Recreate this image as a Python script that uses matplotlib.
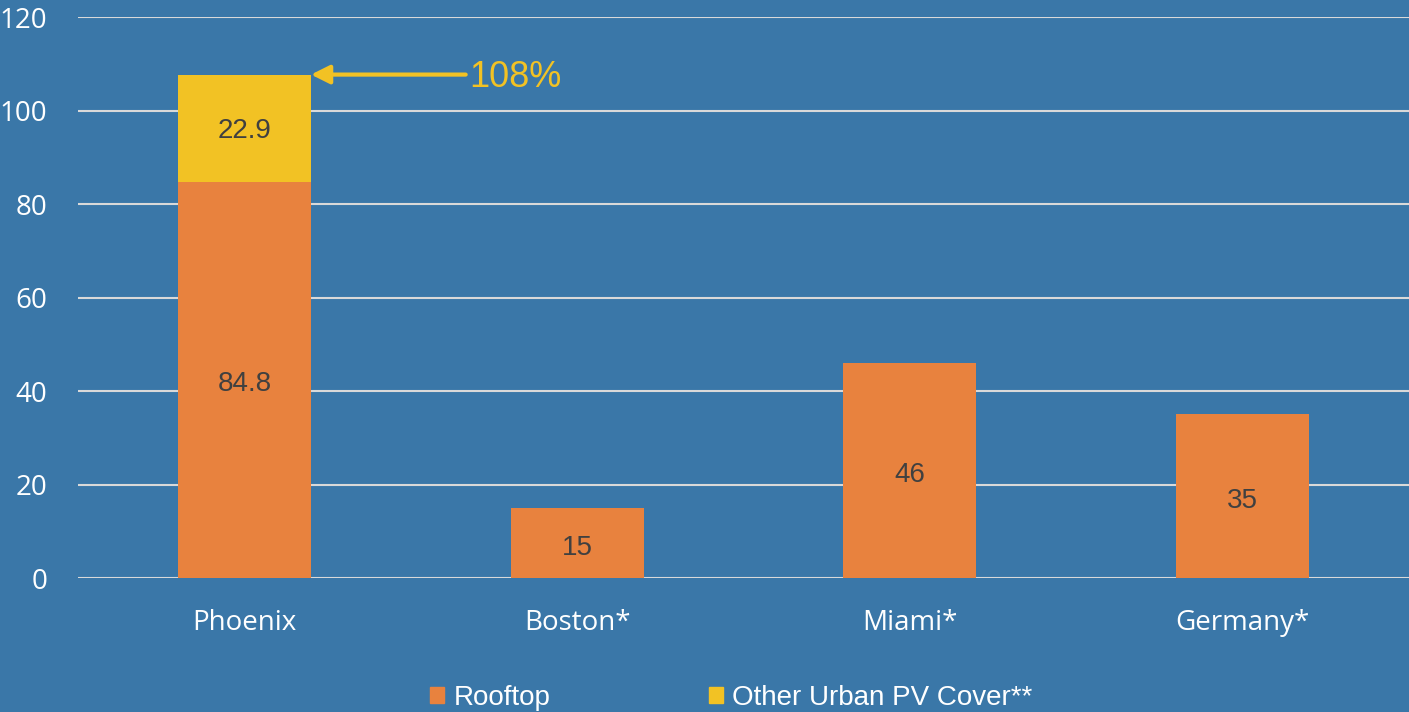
import matplotlib.pyplot as plt
from matplotlib.patches import Patch

categories = ["Phoenix", "Boston*", "Miami*", "Germany*"]
rooftop = [84.8, 15, 46, 35]
other = [22.9, 0, 0, 0]
total_label = "108%"
yticks = [0, 20, 40, 60, 80, 100, 120]

bg = "#3A77A8"
orange = "#E8823E"
yellow = "#F2C224"
label_col = "#404040"

fig = plt.figure(figsize=(14.09, 7.12), dpi=100, facecolor=bg)
ax = fig.add_axes([0.0554, 0.1882, 0.9446, 0.7878])
ax.set_facecolor(bg)

x = range(len(categories))
ax.bar(x, rooftop, width=0.4, color=orange, zorder=3)
ax.bar(x, other, width=0.4, bottom=rooftop, color=yellow, zorder=3)

# labels sit a touch below the bar middle, as in the original
for i, v in enumerate(rooftop):
    ax.text(i, v / 2 - 1, f"{v:g}", ha="center", va="center",
            fontsize=20, color=label_col, family="Liberation Sans", zorder=4)
for i, v in enumerate(other):
    if v:
        ax.text(i, rooftop[i] + v / 2 - 0.6, f"{v:g}", ha="center", va="center",
                fontsize=20, color=label_col, family="Liberation Sans", zorder=4)

top = rooftop[0] + other[0]
ax.annotate("", xy=(0.2, top), xytext=(0.665, top),
            arrowprops=dict(arrowstyle="-|>", color=yellow, lw=3, mutation_scale=28,
                            shrinkA=0, shrinkB=0), zorder=5)
ax.text(0.675, top - 0.6, total_label, ha="left", va="center", fontsize=26,
        color=yellow, family="Liberation Sans")

ax.set_xlim(-0.5, 3.5)
ax.set_ylim(0, 120)
ax.set_yticks(yticks)
ax.set_xticks(list(x))
ax.set_xticklabels(categories)
ax.grid(axis="y", color="#D9D9D9", lw=1.5, zorder=0)
ax.tick_params(length=0, colors="white", labelsize=20)
ax.tick_params(axis="y", pad=22)
ax.tick_params(axis="x", pad=22)
for lab in ax.get_xticklabels() + ax.get_yticklabels():
    lab.set_family("Open Sans")
    lab.set_color("white")
for s in ax.spines.values():
    s.set_visible(False)

handles = [Patch(color=orange), Patch(color=yellow)]
leg = fig.legend(handles, ["Rooftop", "Other Urban PV Cover**"], loc="center",
                 bbox_to_anchor=(0.519, 0.02), ncol=2, frameon=False,
                 handlelength=0.5, handleheight=0.5, handletextpad=0.35,
                 columnspacing=5.7, prop={"family": "Liberation Sans", "size": 20})
for t in leg.get_texts():
    t.set_color("white")

fig.savefig("out.png", dpi=100, facecolor=bg)
